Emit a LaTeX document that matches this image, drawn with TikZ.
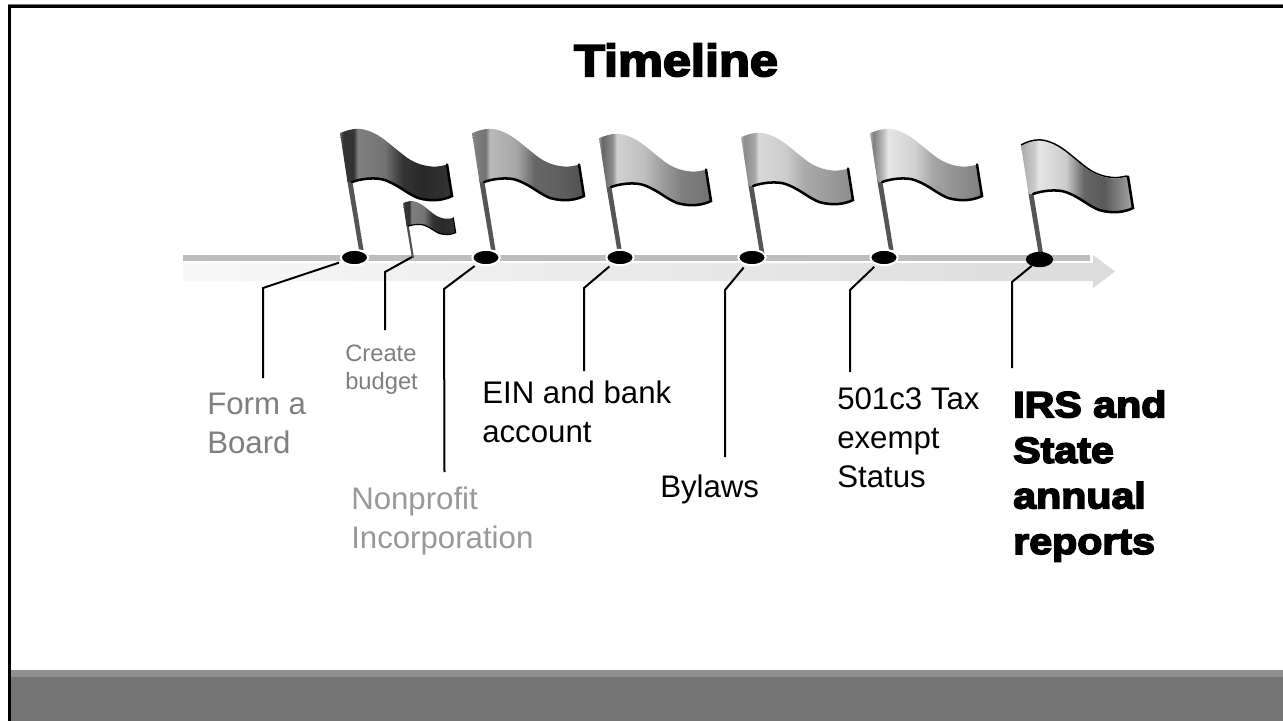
\documentclass[tikz,border=0pt]{standalone}
\usepackage{fontspec}
\setmainfont{Liberation Sans}
\newfontfamily\blk[UprightFont=* Bold,FakeBold=4.5,FakeStretch=1.13]{Liberation Sans}
\usetikzlibrary{shapes.geometric}
\definecolor{bandA}{HTML}{8F8F8F}
\definecolor{bandB}{HTML}{747474}
\definecolor{txtA}{HTML}{7F7F7F}
\definecolor{txtB}{HTML}{999999}
\definecolor{barG}{HTML}{BDBDBD}
\definecolor{poleG}{HTML}{555555}
% colour stops across the flag: the path's box is the central 25bp..75bp
\newcommand{\flagshade}[9]{\pgfdeclarehorizontalshading{#1}{100bp}{%
 color(0bp)=(black!#2);color(25bp)=(black!#2);color(26.5bp)=(black!#3);color(31bp)=(black!#4);color(33bp)=(black!#5);%
 color(45bp)=(black!#6);color(53bp)=(black!#7);color(62bp)=(black!#8);color(75bp)=(black!#9);color(100bp)=(black!#9)}}
\flagshade{flagA}{60}{80}{80}{50}{55}{80}{84}{80}
\flagshade{flagB}{45}{50}{55}{27}{35}{60}{62}{68}
\flagshade{flagC}{40}{60}{45}{18}{25}{38}{50}{55}
\flagshade{flagD}{30}{45}{35}{15}{20}{33}{38}{45}
\flagshade{flagE}{30}{50}{25}{10}{18}{35}{42}{50}
\flagshade{flagF}{35}{30}{20}{10}{20}{60}{65}{35}
\newcommand{\flagdraw}[4]{%
 \begin{scope}[shift={(#1,#2)},x=#3*0.75pt,y=-#3*0.75pt]
  \fill[poleG] (7,46) -- (12,46) -- (23.5,117) -- (19,117) -- cycle;
  \shade[shading=#4] (0,0) -- (3,-1) .. controls (10,-4) and (18,-5) .. (24,-3.5)
    .. controls (38,0) and (46,8) .. (56,16) .. controls (66,24) and (74,32) .. (92,33.5)
    .. controls (96,34) and (101,33) .. (106,32) -- (112,63)
    .. controls (104,67) and (92,69) .. (78,65) .. controls (66,60) and (60,53) .. (46,47.5)
    .. controls (36,43.5) and (20,46) .. (12,49) -- (7.5,49) -- cycle;
  \draw[black,line width=#3*1.9pt,line cap=round] (107,31.5) -- (112,63)
    .. controls (104,67) and (92,69) .. (78,65) .. controls (66,60) and (60,53) .. (46,47.5)
    .. controls (36,43.5) and (20,46) .. (12,49);
 \end{scope}}
\tikzset{
 x=0.75pt,y=-0.75pt,
 dotnode/.style={ellipse,fill=black,draw=white,line width=1.5pt,minimum width=20.5pt,minimum height=11.5pt,inner sep=0pt,outer sep=0pt},
 leader/.style={black,line width=1.5pt,shorten <=#1},
 lbl/.style={anchor=base west,align=left,inner sep=0pt,font=\fontsize{23.4}{29}\selectfont},
 heavy/.style={anchor=base west,align=left,inner sep=0pt,font=\blk\fontsize{27.3}{34.2}\selectfont}
}
\begin{document}
\begin{tikzpicture}
\useasboundingbox (0,0) rectangle (1283,721);
\fill[white] (0,0) rectangle (1283,721);
% frame and band
\fill[bandB] (10,677) rectangle (1283,721);
\fill[bandA] (10,670) rectangle (1283,677);
\fill[black!55] (8,4) rectangle (1283,5);
\fill[black] (8,5) rectangle (1283,7.5);
\fill[black] (8,5) rectangle (10.5,721);
% time axis
\shade[left color=black!3,right color=black!14] (183,263) -- (1093,263) -- (1093,255) -- (1115,271.5) -- (1093,288) -- (1093,281) -- (183,281) -- cycle;
\fill[white] (183,253.5) rectangle (1091,262.5);
\fill[barG] (183,255) rectangle (1090,261);
% flags
\flagdraw{340}{133}{1}{flagA}
\flagdraw{403}{203}{0.47}{flagA}
\flagdraw{472}{133}{1}{flagB}
\flagdraw{599}{138}{1}{flagC}
\flagdraw{741}{137}{1}{flagD}
\flagdraw{870}{133}{1}{flagE}
\flagdraw{1021}{145}{1}{flagF}
\draw[black,line width=1.1pt] (1021,145) -- (1024,143.5) .. controls (1031,140) and (1039,139) .. (1045,140.5) .. controls (1059,144) and (1067,152) .. (1077,160) .. controls (1087,168) and (1095,176) .. (1113,177.5) .. controls (1117,178) and (1122,177) .. (1127,176);
% dots
\node[dotnode] (d1) at (354.5,257.5) {};
\node[dotnode] (d2) at (486,257.5) {};
\node[dotnode] (d3) at (620,257.5) {};
\node[dotnode] (d4) at (752,257.5) {};
\node[dotnode] (d5) at (884,257.5) {};
\node[dotnode,draw=none] (d6) at (1039.5,259.5) {};
\coordinate (s0) at (412,257);
% labels (a multi-line node's base is its last line)
\node[lbl,text=txtA] (t1) at (207,453) {Form a\\Board};
\node[lbl,text=txtA,font=\fontsize{17.8}{21}\selectfont] (t0) at (345,389) {Create\\budget};
\node[lbl,text=txtB] (t2) at (351,548) {Nonprofit\\Incorporation};
\node[lbl] (t3) at (482,442) {EIN and bank\\account};
\node[lbl] (t4) at (660,497) {Bylaws};
\node[lbl] (t5) at (837,487) {501c3 Tax\\exempt\\Status};
\node[heavy] (t6) at (1013,554) {IRS and\\State\\annual\\reports};
\node[anchor=base,inner sep=0pt,font=\blk\fontsize{33.5}{36}\selectfont] (title) at (676,76) {Timeline};
% leaders
\coordinate (c1) at (263,288); \coordinate (e1) at (263,378);
\coordinate (c0) at (385,272); \coordinate (e0) at (385,330);
\coordinate (c2) at (444,289); \coordinate (e2) at (444.5,472);
\coordinate (c3) at (584,288); \coordinate (e3) at (584,371);
\coordinate (c4) at (725,290); \coordinate (e4) at (725,457);
\coordinate (c5) at (850,290); \coordinate (e5) at (850,372);
\coordinate (c6) at (1012,282); \coordinate (e6) at (1012,368);
\draw[leader=3pt] (d1) -- (c1) -- (e1);
\draw[leader=0pt] (s0) -- (c0) -- (e0);
\draw[leader=3pt] (d2) -- (c2) -- (e2);
\draw[leader=3pt] (d3) -- (c3) -- (e3);
\draw[leader=3pt] (d4) -- (c4) -- (e4);
\draw[leader=3pt] (d5) -- (c5) -- (e5);
\draw[leader=0pt] (d6) -- (c6) -- (e6);
\end{tikzpicture}
\end{document}
